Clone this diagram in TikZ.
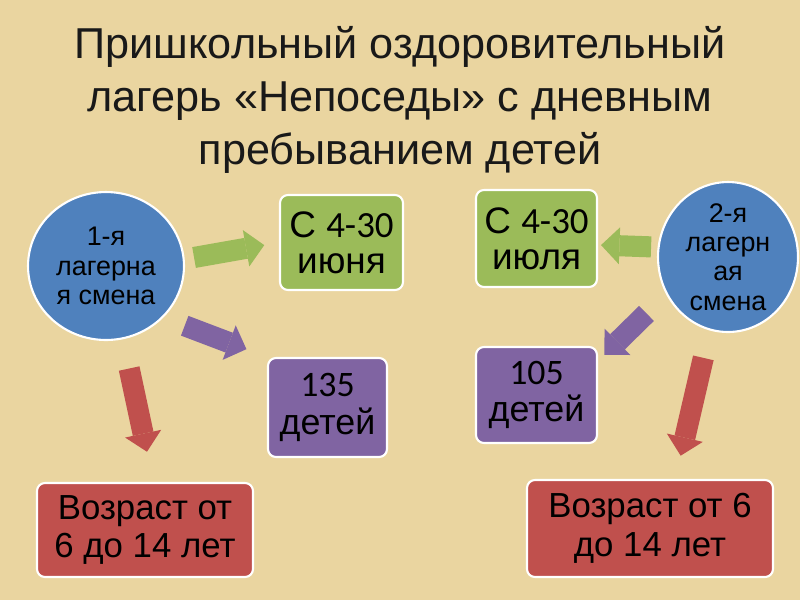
\documentclass[tikz,border=0pt]{standalone}
\usepackage{fontspec}
\setmainfont{Liberation Sans}
\newfontfamily\numfont{Carlito}
\usepackage{xcolor}
\usepackage{tikz}
\usetikzlibrary{shapes.geometric, arrows.meta, positioning}
\definecolor{papyrus}{RGB}{234,213,160}
\definecolor{shiftblue}{RGB}{79,129,189}
\definecolor{shiftgreen}{RGB}{155,187,89}
\definecolor{shiftpurple}{RGB}{128,100,162}
\definecolor{shiftred}{RGB}{192,80,77}

\begin{document}
\begin{tikzpicture}[
    x=0.02cm, y=-0.02cm,
    shiftcircle/.style={ellipse, draw=white, line width=1.2pt, fill=shiftblue, align=center, inner sep=0pt, font=\fontsize{15.3}{16.7}\selectfont},
    infobox/.style={rectangle, rounded corners=4.5pt, draw=white, line width=1.2pt, align=center, inner sep=0pt},
    datebox/.style={infobox, fill=shiftgreen, font=\fontsize{21}{20.5}\selectfont},
    countbox/.style={infobox, fill=shiftpurple, font=\fontsize{20.4}{21.5}\selectfont},
    agebox/.style={infobox, fill=shiftred, font=\fontsize{19.8}{22}\selectfont},
    blockarrow/.style={line width=12pt, -{Triangle[length=10.5pt, width=21pt, line width=0pt]}}
]
    \fill[papyrus] (0,0) rectangle (800,600);
    \node[align=center, text=black!90, font=\fontsize{24.6}{30.3}\selectfont] (title) at (400,100) {Пришкольный оздоровительный\\лагерь «Непоседы» с дневным\\пребыванием детей};

    \node[shiftcircle, minimum width=3.12cm, minimum height=2.96cm] (first) at (106,266) {1-я\\лагерна\\я смена};
    \node[shiftcircle, minimum width=2.8cm, minimum height=3cm, inner ysep=-6pt] (second) at (728,257) {2-я\\лагерн\\ая\\смена};

    \node[datebox, minimum width=2.46cm, minimum height=1.9cm] (june) at (341.5,242.5) {С {\numfont 4-30}\\июня};
    \node[datebox, minimum width=2.42cm, minimum height=1.94cm] (july) at (536.5,238.5) {С {\numfont 4-30}\\июля};
    \node[countbox, minimum width=2.38cm, minimum height=1.98cm] (count1) at (327.5,407.5) {{\numfont 135}\\детей};
    \node[countbox, minimum width=2.42cm, minimum height=1.92cm] (count2) at (536.5,395) {{\numfont 105}\\детей};
    \node[agebox, minimum width=4.32cm, minimum height=1.88cm] (age1) at (145,530) {Возраст от\\6 до 14 лет};
    \node[agebox, minimum width=4.92cm, minimum height=1.94cm] (age2) at (650,528.5) {Возраст от 6\\до 14 лет};

    \draw[blockarrow, shiftgreen, shorten <=5.4pt, shorten >=8.5pt] (first.5) -- (june.west);
    \draw[blockarrow, shiftpurple, shorten <=13pt, shorten >=12.5pt] (first.-42) -- (count1.north west);
    \draw[blockarrow, shiftred, shorten <=17pt, shorten >=17.6pt] (first.-77) -- (age1.80);
    \draw[blockarrow, shiftgreen, shorten <=3.7pt, shorten >=1.7pt] (second.172) -- (july.-6);
    \draw[blockarrow, shiftpurple, shorten <=15.6pt, shorten >=5pt] (second.211) -- (count2.29);
    \draw[blockarrow, shiftred, shorten <=16pt, shorten >=13.6pt] (second.-104) -- (age2.63);
\end{tikzpicture}
\end{document}
